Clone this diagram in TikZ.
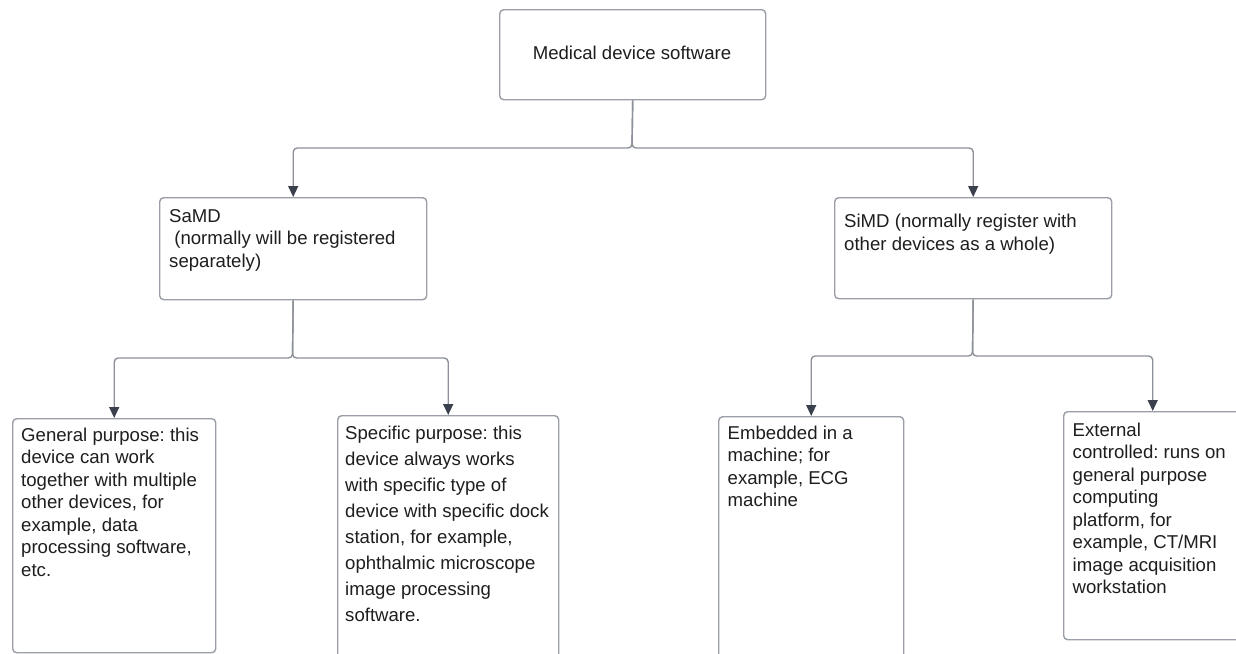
\documentclass[tikz,border=0pt]{standalone}
\usepackage{fontspec}
\setmainfont{Liberation Sans}
\usetikzlibrary{arrows.meta}
\definecolor{boxline}{HTML}{9A9EA6}
\definecolor{connline}{HTML}{8C9099}
\definecolor{tipcol}{HTML}{3A404C}
\definecolor{txt}{HTML}{1E1E1E}
\frenchspacing
\begin{document}
\begin{tikzpicture}[x=1pt,y=-1pt,
  box/.style={draw=boxline, line width=1.4pt, rounded corners=4pt, fill=white, inner sep=0pt, anchor=north west},
  conn/.style={draw=connline, line width=1.4pt, rounded corners=4pt, -{Triangle[length=11pt,width=10pt,color=tipcol]}},
  lbl/.style={inner sep=0pt, anchor=north west, align=left, text=txt, font=\fontsize{18.6}{22.5}\selectfont},
  lblwide/.style={lbl, font=\fontsize{18.6}{26}\selectfont}]
\useasboundingbox (0,0) rectangle (1236,653);
\clip (0,0) rectangle (1236,653);
% boxes
\node[box, minimum width=266pt, minimum height=90pt] (top) at (499,9) {};
\node[box, minimum width=267pt, minimum height=102pt] (samd) at (159,197) {};
\node[box, minimum width=277pt, minimum height=101pt] (simd) at (834,197) {};
\node[box, minimum width=203pt, minimum height=234pt] (gen) at (12,418) {};
\node[box, minimum width=221pt, minimum height=260pt] (spec) at (337,415) {};
\node[box, minimum width=185pt, minimum height=260pt] (emb) at (718,416) {};
\node[box, minimum width=178pt, minimum height=228pt] (ext) at (1063,411) {};
% texts
\node[lbl, anchor=center] (topT) at (632,52.5) {Medical device software};
\node[lbl] (samdT) at (169,209) {SaMD\\\ (normally will be registered\\separately)};
\node[lbl] (simdT) at (844,214) {SiMD (normally register with\\other devices as a whole)};
\node[lbl] (genT) at (21,427.5) {General purpose: this\\device can work\\together with multiple\\other devices, for\\example, data\\processing software,\\etc.};
\node[lblwide] (specT) at (345,425.7) {Specific purpose: this\\device always works\\with specific type of\\device with specific dock\\station, for example,\\ophthalmic microscope\\image processing\\software.};
\node[lbl] (embT) at (727.5,425.7) {Embedded in a\\machine; for\\example, ECG\\machine};
\node[lbl] (extT) at (1072.5,422.4) {External\\controlled: runs on\\general purpose\\computing\\platform, for\\example, CT/MRI\\image acquisition\\workstation};
% junctions
\coordinate (j1) at (632,148);
\coordinate (j2) at (292.5,358);
\coordinate (j3) at (972.5,356);
% connectors
\draw[conn] (top.south) -- (j1) -| (samd.north);
\draw[conn] (top.south) -- (j1) -| (simd.north);
\draw[conn] (samd.south) -- (j2) -| (gen.north);
\draw[conn] (samd.south) -- (j2) -| (spec.north);
\draw[conn] (simd.south) -- (j3) -| (emb.north);
\draw[conn] (simd.south) -- (j3) -| (ext.north);
\end{tikzpicture}
\end{document}
